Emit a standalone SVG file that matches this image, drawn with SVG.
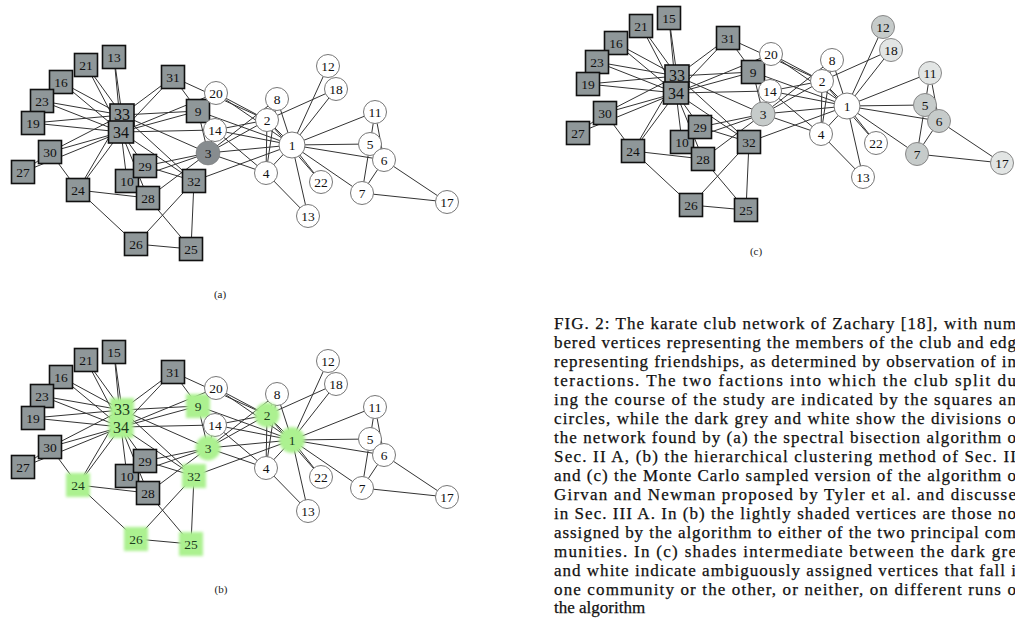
<svg xmlns="http://www.w3.org/2000/svg" xmlns:xlink="http://www.w3.org/1999/xlink" width="1015" height="620" viewBox="0 0 1015 620">
<style>
.e line{stroke:#333;stroke-width:1}
.sq{fill:#8f9799;stroke:#111;stroke-width:1.6}
.ci{fill:#fff;stroke:#777;stroke-width:1}
.dk{fill:#878c8f;stroke:#777;stroke-width:0.5}
.lg{fill:#c6cbca;stroke:#888;stroke-width:1}
.lg2{fill:#e2e5e4;stroke:#888;stroke-width:1}
.gr{fill:#acf190;filter:url(#blur)}
.l{font-family:"Liberation Serif",serif;font-size:13.5px;fill:#111;text-anchor:middle;dominant-baseline:central}
.big{font-size:16px}
.gl{fill:#1d3d1d}
.sub{font-family:"Liberation Serif",serif;font-size:11px;fill:#222;text-anchor:middle}
.cap{font-family:"Liberation Serif",serif;font-size:17px;fill:#111;stroke:#111;stroke-width:0.25}
</style>
<defs>
<filter id="blur" x="-30%" y="-30%" width="160%" height="160%"><feGaussianBlur stdDeviation="1.6"/></filter>
<g id="edgeset" class="e">
<line x1="292" y1="145" x2="267" y2="120"/>
<line x1="292" y1="145" x2="208" y2="153"/>
<line x1="292" y1="145" x2="266" y2="173"/>
<line x1="292" y1="145" x2="370" y2="144"/>
<line x1="292" y1="145" x2="384" y2="160"/>
<line x1="292" y1="145" x2="362" y2="193"/>
<line x1="292" y1="145" x2="277" y2="99"/>
<line x1="292" y1="145" x2="198" y2="111"/>
<line x1="292" y1="145" x2="375" y2="112"/>
<line x1="292" y1="145" x2="328" y2="66"/>
<line x1="292" y1="145" x2="308" y2="216"/>
<line x1="292" y1="145" x2="215" y2="130"/>
<line x1="292" y1="145" x2="336" y2="89"/>
<line x1="292" y1="145" x2="216" y2="93"/>
<line x1="292" y1="145" x2="321" y2="182"/>
<line x1="292" y1="145" x2="194" y2="181"/>
<line x1="267" y1="120" x2="208" y2="153"/>
<line x1="267" y1="120" x2="266" y2="173"/>
<line x1="267" y1="120" x2="277" y2="99"/>
<line x1="267" y1="120" x2="215" y2="130"/>
<line x1="267" y1="120" x2="336" y2="89"/>
<line x1="267" y1="120" x2="216" y2="93"/>
<line x1="267" y1="120" x2="321" y2="182"/>
<line x1="267" y1="120" x2="173" y2="77"/>
<line x1="208" y1="153" x2="266" y2="173"/>
<line x1="208" y1="153" x2="277" y2="99"/>
<line x1="208" y1="153" x2="198" y2="111"/>
<line x1="208" y1="153" x2="127" y2="181"/>
<line x1="208" y1="153" x2="215" y2="130"/>
<line x1="208" y1="153" x2="148" y2="198"/>
<line x1="208" y1="153" x2="145" y2="166"/>
<line x1="208" y1="153" x2="122" y2="115"/>
<line x1="266" y1="173" x2="277" y2="99"/>
<line x1="266" y1="173" x2="308" y2="216"/>
<line x1="266" y1="173" x2="215" y2="130"/>
<line x1="370" y1="144" x2="362" y2="193"/>
<line x1="370" y1="144" x2="375" y2="112"/>
<line x1="384" y1="160" x2="362" y2="193"/>
<line x1="384" y1="160" x2="375" y2="112"/>
<line x1="384" y1="160" x2="447" y2="202"/>
<line x1="362" y1="193" x2="447" y2="202"/>
<line x1="198" y1="111" x2="173" y2="77"/>
<line x1="198" y1="111" x2="122" y2="115"/>
<line x1="198" y1="111" x2="121" y2="132"/>
<line x1="127" y1="181" x2="121" y2="132"/>
<line x1="215" y1="130" x2="121" y2="132"/>
<line x1="114" y1="57" x2="122" y2="115"/>
<line x1="114" y1="57" x2="121" y2="132"/>
<line x1="61" y1="82" x2="122" y2="115"/>
<line x1="61" y1="82" x2="121" y2="132"/>
<line x1="33" y1="123" x2="122" y2="115"/>
<line x1="33" y1="123" x2="121" y2="132"/>
<line x1="216" y1="93" x2="121" y2="132"/>
<line x1="86" y1="65" x2="122" y2="115"/>
<line x1="86" y1="65" x2="121" y2="132"/>
<line x1="42" y1="101" x2="122" y2="115"/>
<line x1="42" y1="101" x2="121" y2="132"/>
<line x1="78" y1="190" x2="136" y2="244"/>
<line x1="78" y1="190" x2="148" y2="198"/>
<line x1="78" y1="190" x2="50" y2="152"/>
<line x1="78" y1="190" x2="122" y2="115"/>
<line x1="78" y1="190" x2="121" y2="132"/>
<line x1="191" y1="249" x2="136" y2="244"/>
<line x1="191" y1="249" x2="148" y2="198"/>
<line x1="191" y1="249" x2="194" y2="181"/>
<line x1="136" y1="244" x2="194" y2="181"/>
<line x1="23" y1="172" x2="50" y2="152"/>
<line x1="23" y1="172" x2="121" y2="132"/>
<line x1="148" y1="198" x2="121" y2="132"/>
<line x1="145" y1="166" x2="194" y2="181"/>
<line x1="145" y1="166" x2="121" y2="132"/>
<line x1="50" y1="152" x2="122" y2="115"/>
<line x1="50" y1="152" x2="121" y2="132"/>
<line x1="173" y1="77" x2="122" y2="115"/>
<line x1="173" y1="77" x2="121" y2="132"/>
<line x1="194" y1="181" x2="122" y2="115"/>
<line x1="194" y1="181" x2="121" y2="132"/>
<line x1="122" y1="115" x2="121" y2="132"/>
</g>
</defs>
<rect width="1015" height="620" fill="#fff"/>
<g id="connectors">
<use xlink:href="#edgeset"/>
<use xlink:href="#edgeset" transform="translate(0,295)"/>
<use xlink:href="#edgeset" transform="translate(555,-39)"/>
</g>

<!-- Graph (a) -->
<g id="graph-a">
<g id="a-n21"><rect class="sq" x="74.5" y="53.5" width="23" height="23"/><text class="l" x="86" y="65">21</text></g>
<g id="a-n16"><rect class="sq" x="49.5" y="70.5" width="23" height="23"/><text class="l" x="61" y="82">16</text></g>
<g id="a-n15"><rect class="sq" x="102.5" y="45.5" width="23" height="23"/><text class="l" x="114" y="57">13</text></g>
<g id="a-n23"><rect class="sq" x="30.5" y="89.5" width="23" height="23"/><text class="l" x="42" y="101">23</text></g>
<g id="a-n19"><rect class="sq" x="21.5" y="111.5" width="23" height="23"/><text class="l" x="33" y="123">19</text></g>
<g id="a-n30"><rect class="sq" x="38.5" y="140.5" width="23" height="23"/><text class="l" x="50" y="152">30</text></g>
<g id="a-n27"><rect class="sq" x="11.5" y="160.5" width="23" height="23"/><text class="l" x="23" y="172">27</text></g>
<g id="a-n24"><rect class="sq" x="66.5" y="178.5" width="23" height="23"/><text class="l" x="78" y="190">24</text></g>
<g id="a-n31"><rect class="sq" x="161.5" y="65.5" width="23" height="23"/><text class="l" x="173" y="77">31</text></g>
<g id="a-n9"><rect class="sq" x="186.5" y="99.5" width="23" height="23"/><text class="l" x="198" y="111">9</text></g>
<g id="a-n10"><rect class="sq" x="115.5" y="169.5" width="23" height="23"/><text class="l" x="127" y="181">10</text></g>
<g id="a-n29"><rect class="sq" x="133.5" y="154.5" width="23" height="23"/><text class="l" x="145" y="166">29</text></g>
<g id="a-n28"><rect class="sq" x="136.5" y="186.5" width="23" height="23"/><text class="l" x="148" y="198">28</text></g>
<g id="a-n32"><rect class="sq" x="182.5" y="169.5" width="23" height="23"/><text class="l" x="194" y="181">32</text></g>
<g id="a-n26"><rect class="sq" x="124.5" y="232.5" width="23" height="23"/><text class="l" x="136" y="244">26</text></g>
<g id="a-n25"><rect class="sq" x="179.5" y="237.5" width="23" height="23"/><text class="l" x="191" y="249">25</text></g>
<g id="a-n33"><rect class="sq" x="110" y="104" width="24" height="22"/><text class="l big" x="122" y="114">33</text></g>
<g id="a-n34"><rect class="sq" x="108.5" y="121" width="25" height="22"/><text class="l big" x="121" y="132">34</text></g>
<g id="a-n20"><circle class="ci" cx="216" cy="93" r="11.5"/><text class="l" x="216" y="93">20</text></g>
<g id="a-n14"><circle class="ci" cx="215" cy="130" r="11.5"/><text class="l" x="215" y="130">14</text></g>
<g id="a-n3"><circle class="dk" cx="208" cy="153" r="12"/><text class="l" x="208" y="153">3</text></g>
<g id="a-n8"><circle class="ci" cx="277" cy="99" r="11.5"/><text class="l" x="277" y="99">8</text></g>
<g id="a-n2"><circle class="ci" cx="267" cy="120" r="11.5"/><text class="l" x="267" y="120">2</text></g>
<g id="a-n4"><circle class="ci" cx="266" cy="173" r="11.5"/><text class="l" x="266" y="173">4</text></g>
<g id="a-n1"><circle class="ci" cx="292" cy="145" r="13"/><text class="l" x="292" y="145">1</text></g>
<g id="a-n12"><circle class="ci" cx="328" cy="66" r="11.5"/><text class="l" x="328" y="66">12</text></g>
<g id="a-n18"><circle class="ci" cx="336" cy="89" r="11.5"/><text class="l" x="336" y="89">18</text></g>
<g id="a-n11"><circle class="ci" cx="375" cy="112" r="11.5"/><text class="l" x="375" y="112">11</text></g>
<g id="a-n5"><circle class="ci" cx="370" cy="144" r="11.5"/><text class="l" x="370" y="144">5</text></g>
<g id="a-n6"><circle class="ci" cx="384" cy="160" r="11.5"/><text class="l" x="384" y="160">6</text></g>
<g id="a-n7"><circle class="ci" cx="362" cy="193" r="11.5"/><text class="l" x="362" y="193">7</text></g>
<g id="a-n22"><circle class="ci" cx="321" cy="182" r="11.5"/><text class="l" x="321" y="182">22</text></g>
<g id="a-n13"><circle class="ci" cx="308" cy="216" r="11.5"/><text class="l" x="308" y="216">13</text></g>
<g id="a-n17"><circle class="ci" cx="447" cy="202" r="11.5"/><text class="l" x="447" y="202">17</text></g>
<text class="sub" x="220" y="298">(a)</text>
</g>

<!-- Graph (b) -->
<g id="graph-b" transform="translate(0,295)">
<g id="b-n21"><rect class="sq" x="74.5" y="53.5" width="23" height="23"/><text class="l" x="86" y="65">21</text></g>
<g id="b-n16"><rect class="sq" x="49.5" y="70.5" width="23" height="23"/><text class="l" x="61" y="82">16</text></g>
<g id="b-n15"><rect class="sq" x="102.5" y="45.5" width="23" height="23"/><text class="l" x="114" y="57">15</text></g>
<g id="b-n23"><rect class="sq" x="30.5" y="89.5" width="23" height="23"/><text class="l" x="42" y="101">23</text></g>
<g id="b-n19"><rect class="sq" x="21.5" y="111.5" width="23" height="23"/><text class="l" x="33" y="123">19</text></g>
<g id="b-n30"><rect class="sq" x="38.5" y="140.5" width="23" height="23"/><text class="l" x="50" y="152">30</text></g>
<g id="b-n27"><rect class="sq" x="11.5" y="160.5" width="23" height="23"/><text class="l" x="23" y="172">27</text></g>
<g id="b-n24"><rect class="gr" x="66" y="178" width="24" height="24"/><text class="l gl" x="78" y="190">24</text></g>
<g id="b-n31"><rect class="sq" x="161.5" y="65.5" width="23" height="23"/><text class="l" x="173" y="77">31</text></g>
<g id="b-n9"><rect class="gr" x="186" y="99" width="24" height="24"/><text class="l gl" x="198" y="111">9</text></g>
<g id="b-n10"><rect class="sq" x="115.5" y="169.5" width="23" height="23"/><text class="l" x="127" y="181">10</text></g>
<g id="b-n29"><rect class="sq" x="133.5" y="154.5" width="23" height="23"/><text class="l" x="145" y="166">29</text></g>
<g id="b-n28"><rect class="sq" x="136.5" y="186.5" width="23" height="23"/><text class="l" x="148" y="198">28</text></g>
<g id="b-n32"><rect class="gr" x="182" y="169" width="24" height="24"/><text class="l gl" x="194" y="181">32</text></g>
<g id="b-n26"><rect class="gr" x="124" y="232" width="24" height="24"/><text class="l gl" x="136" y="244">26</text></g>
<g id="b-n25"><rect class="gr" x="179" y="237" width="24" height="24"/><text class="l gl" x="191" y="249">25</text></g>
<g id="b-n33"><rect class="gr" x="110" y="103" width="24" height="22"/><text class="l big gl" x="122" y="114">33</text></g>
<g id="b-n34"><rect class="gr" x="108.5" y="121" width="25" height="22"/><text class="l big gl" x="121" y="132">34</text></g>
<g id="b-n20"><circle class="ci" cx="216" cy="93" r="11.5"/><text class="l" x="216" y="93">20</text></g>
<g id="b-n14"><circle class="ci" cx="215" cy="130" r="11.5"/><text class="l" x="215" y="130">14</text></g>
<g id="b-n3"><circle class="gr" cx="208" cy="153" r="12.5"/><text class="l gl" x="208" y="153">3</text></g>
<g id="b-n8"><circle class="ci" cx="277" cy="99" r="11.5"/><text class="l" x="277" y="99">8</text></g>
<g id="b-n2"><circle class="gr" cx="267" cy="120" r="12.5"/><text class="l gl" x="267" y="120">2</text></g>
<g id="b-n4"><circle class="ci" cx="266" cy="173" r="11.5"/><text class="l" x="266" y="173">4</text></g>
<g id="b-n1"><circle class="gr" cx="292" cy="145" r="13"/><text class="l gl" x="292" y="145">1</text></g>
<g id="b-n12"><circle class="ci" cx="328" cy="66" r="11.5"/><text class="l" x="328" y="66">12</text></g>
<g id="b-n18"><circle class="ci" cx="336" cy="89" r="11.5"/><text class="l" x="336" y="89">18</text></g>
<g id="b-n11"><circle class="ci" cx="375" cy="112" r="11.5"/><text class="l" x="375" y="112">11</text></g>
<g id="b-n5"><circle class="ci" cx="370" cy="144" r="11.5"/><text class="l" x="370" y="144">5</text></g>
<g id="b-n6"><circle class="ci" cx="384" cy="160" r="11.5"/><text class="l" x="384" y="160">6</text></g>
<g id="b-n7"><circle class="ci" cx="362" cy="193" r="11.5"/><text class="l" x="362" y="193">7</text></g>
<g id="b-n22"><circle class="ci" cx="321" cy="182" r="11.5"/><text class="l" x="321" y="182">22</text></g>
<g id="b-n13"><circle class="ci" cx="308" cy="216" r="11.5"/><text class="l" x="308" y="216">13</text></g>
<g id="b-n17"><circle class="ci" cx="447" cy="202" r="11.5"/><text class="l" x="447" y="202">17</text></g>
<text class="sub" x="221" y="298">(b)</text>
</g>

<!-- Graph (c) -->
<g id="graph-c" transform="translate(555,-39)">
<g id="c-n21"><rect class="sq" x="74.5" y="53.5" width="23" height="23"/><text class="l" x="86" y="65">21</text></g>
<g id="c-n16"><rect class="sq" x="49.5" y="70.5" width="23" height="23"/><text class="l" x="61" y="82">16</text></g>
<g id="c-n15"><rect class="sq" x="102.5" y="45.5" width="23" height="23"/><text class="l" x="114" y="57">15</text></g>
<g id="c-n23"><rect class="sq" x="30.5" y="89.5" width="23" height="23"/><text class="l" x="42" y="101">23</text></g>
<g id="c-n19"><rect class="sq" x="21.5" y="111.5" width="23" height="23"/><text class="l" x="33" y="123">19</text></g>
<g id="c-n30"><rect class="sq" x="38.5" y="140.5" width="23" height="23"/><text class="l" x="50" y="152">30</text></g>
<g id="c-n27"><rect class="sq" x="11.5" y="160.5" width="23" height="23"/><text class="l" x="23" y="172">27</text></g>
<g id="c-n24"><rect class="sq" x="66.5" y="178.5" width="23" height="23"/><text class="l" x="78" y="190">24</text></g>
<g id="c-n31"><rect class="sq" x="161.5" y="65.5" width="23" height="23"/><text class="l" x="173" y="77">31</text></g>
<g id="c-n9"><rect class="sq" x="186.5" y="99.5" width="23" height="23"/><text class="l" x="198" y="111">9</text></g>
<g id="c-n10"><rect class="sq" x="115.5" y="169.5" width="23" height="23"/><text class="l" x="127" y="181">10</text></g>
<g id="c-n29"><rect class="sq" x="133.5" y="154.5" width="23" height="23"/><text class="l" x="145" y="166">29</text></g>
<g id="c-n28"><rect class="sq" x="136.5" y="186.5" width="23" height="23"/><text class="l" x="148" y="198">28</text></g>
<g id="c-n32"><rect class="sq" x="182.5" y="169.5" width="23" height="23"/><text class="l" x="194" y="181">32</text></g>
<g id="c-n26"><rect class="sq" x="124.5" y="232.5" width="23" height="23"/><text class="l" x="136" y="244">26</text></g>
<g id="c-n25"><rect class="sq" x="179.5" y="237.5" width="23" height="23"/><text class="l" x="191" y="249">25</text></g>
<g id="c-n33"><rect class="sq" x="110" y="104" width="24" height="22"/><text class="l big" x="122" y="114">33</text></g>
<g id="c-n34"><rect class="sq" x="108.5" y="121" width="25" height="22"/><text class="l big" x="121" y="132">34</text></g>
<g id="c-n20"><circle class="ci" cx="216" cy="93" r="11.5"/><text class="l" x="216" y="93">20</text></g>
<g id="c-n14"><circle class="ci" cx="215" cy="130" r="11.5"/><text class="l" x="215" y="130">14</text></g>
<g id="c-n3"><circle class="lg" cx="208" cy="153" r="12"/><text class="l" x="208" y="153">3</text></g>
<g id="c-n8"><circle class="ci" cx="277" cy="99" r="11.5"/><text class="l" x="277" y="99">8</text></g>
<g id="c-n2"><circle class="ci" cx="267" cy="120" r="11.5"/><text class="l" x="267" y="120">2</text></g>
<g id="c-n4"><circle class="ci" cx="266" cy="173" r="11.5"/><text class="l" x="266" y="173">4</text></g>
<g id="c-n1"><circle class="ci" cx="292" cy="145" r="13"/><text class="l" x="292" y="145">1</text></g>
<g id="c-n12"><circle class="lg" cx="328" cy="66" r="11.5"/><text class="l" x="328" y="66">12</text></g>
<g id="c-n18"><circle class="lg2" cx="336" cy="89" r="11.5"/><text class="l" x="336" y="89">18</text></g>
<g id="c-n11"><circle class="lg2" cx="375" cy="112" r="11.5"/><text class="l" x="375" y="112">11</text></g>
<g id="c-n5"><circle class="lg" cx="370" cy="144" r="11.5"/><text class="l" x="370" y="144">5</text></g>
<g id="c-n6"><circle class="lg" cx="384" cy="160" r="11.5"/><text class="l" x="384" y="160">6</text></g>
<g id="c-n7"><circle class="lg" cx="362" cy="193" r="11.5"/><text class="l" x="362" y="193">7</text></g>
<g id="c-n22"><circle class="ci" cx="321" cy="182" r="11.5"/><text class="l" x="321" y="182">22</text></g>
<g id="c-n13"><circle class="ci" cx="308" cy="216" r="11.5"/><text class="l" x="308" y="216">13</text></g>
<g id="c-n17"><circle class="lg2" cx="447" cy="202" r="11.5"/><text class="l" x="447" y="202">17</text></g>
<text class="sub" x="201" y="294">(c)</text>
</g>

<g id="caption" class="cap">
<text x="554" y="329" textLength="462" lengthAdjust="spacing">FIG. 2: The karate club network of Zachary [18], with num</text>
<text x="554" y="348" textLength="462" lengthAdjust="spacing">bered vertices representing the members of the club and edg</text>
<text x="554" y="367" textLength="462" lengthAdjust="spacing">representing friendships, as determined by observation of in</text>
<text x="554" y="386" textLength="462" lengthAdjust="spacing">teractions. The two factions into which the club split du</text>
<text x="554" y="405" textLength="462" lengthAdjust="spacing">ing the course of the study are indicated by the squares an</text>
<text x="554" y="424" textLength="462" lengthAdjust="spacing">circles, while the dark grey and white show the divisions o</text>
<text x="554" y="443" textLength="462" lengthAdjust="spacing">the network found by (a) the spectral bisection algorithm o</text>
<text x="554" y="462" textLength="462" lengthAdjust="spacing">Sec. II A, (b) the hierarchical clustering method of Sec. II</text>
<text x="554" y="481" textLength="462" lengthAdjust="spacing">and (c) the Monte Carlo sampled version of the algorithm o</text>
<text x="554" y="500" textLength="462" lengthAdjust="spacing">Girvan and Newman proposed by Tyler et al. and discusse</text>
<text x="554" y="519" textLength="462" lengthAdjust="spacing">in Sec. III A. In (b) the lightly shaded vertices are those no</text>
<text x="554" y="538" textLength="462" lengthAdjust="spacing">assigned by the algorithm to either of the two principal com</text>
<text x="554" y="557" textLength="462" lengthAdjust="spacing">munities. In (c) shades intermediate between the dark gre</text>
<text x="554" y="576" textLength="462" lengthAdjust="spacing">and white indicate ambiguously assigned vertices that fall i</text>
<text x="554" y="595" textLength="462" lengthAdjust="spacing">one community or the other, or neither, on different runs o</text>
<text x="554" y="613">the algorithm</text>
</g>
</svg>
